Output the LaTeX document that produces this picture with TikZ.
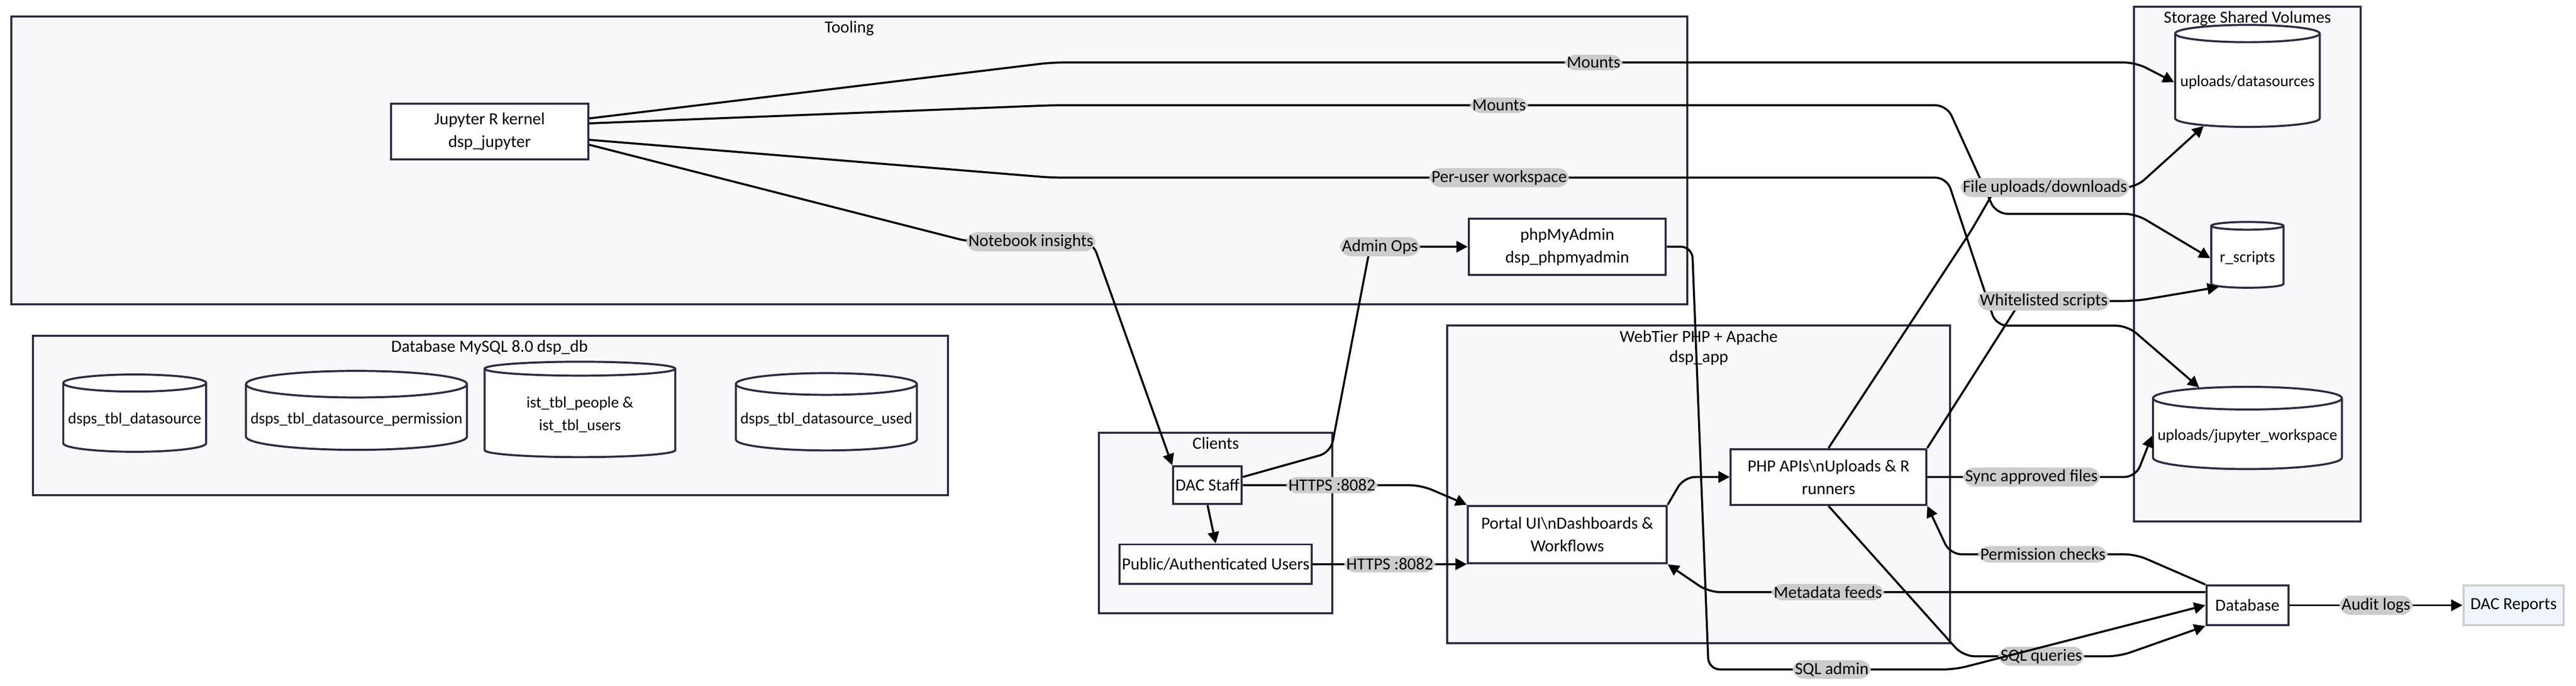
\documentclass[tikz,border=0pt]{standalone}
\usepackage{fontspec}
\setmainfont{Carlito}
\usetikzlibrary{shapes.geometric,arrows.meta,positioning}
\definecolor{edge}{HTML}{2B2B45}
\definecolor{clusterfill}{HTML}{F8F8FB}
\definecolor{labelbg}{HTML}{CCCCCC}
\definecolor{reportfill}{HTML}{F0F4FB}
\newcommand{\un}{0.0255cm}
\tikzset{
  cluster/.style={draw=edge, fill=clusterfill, line width=0.9pt},
  ctitle/.style={font=\fontsize{7.5}{9}\selectfont, text=black, align=center, anchor=north},
  box/.style={draw=edge, fill=white, line width=0.9pt, font=\fontsize{7.5}{10}\selectfont, align=center, inner sep=1pt},
  store/.style={cylinder, shape border rotate=90, aspect=0.12, draw=edge, fill=white, line width=0.9pt, font=\fontsize{7}{10}\selectfont, align=center, inner xsep=2pt, inner ysep=0pt},
  size/.style 2 args={minimum width=#1*\un, minimum height=#2*\un},
  link/.style={line width=0.9pt, draw=black, -{Triangle[length=5pt,width=5pt]}, rounded corners=5pt},
  tag/.style={fill=labelbg, font=\fontsize{7.5}{9}\selectfont, inner sep=1pt}
}
\begin{document}
\begin{tikzpicture}[x=\un, y=-\un]
\useasboundingbox (0,0) rectangle (1568,417);

% clusters
\draw[cluster] (7,10) rectangle (1027,185);
\node[ctitle] at (517,8) {Tooling};
\draw[cluster] (20,204) rectangle (577,301);
\node[ctitle] at (298,202) {Database MySQL 8.0 dsp\_db};
\draw[cluster] (669,263) rectangle (811,373);
\node[ctitle] at (740,261) {Clients};
\draw[cluster] (881,198) rectangle (1187,391);
\node[ctitle] at (1034,196) {WebTier PHP + Apache\\dsp\_app};
\draw[cluster] (1299,4) rectangle (1437,317);
\node[ctitle] at (1368,2) {Storage Shared Volumes};

% nodes
\node[box, size={120}{34}] (jupyter) at (298,80) {Jupyter R kernel\\dsp\_jupyter};
\node[box, size={120}{34}] (pma) at (954,150) {phpMyAdmin\\dsp\_phpmyadmin};
\node[store, size={87}{47}] (tds) at (82,255) {dsps\_tbl\_datasource};
\node[store, size={128}{48}] (tperm) at (217,255) {dsps\_tbl\_datasource\_permission};
\node[store, size={116}{58}] (tppl) at (353,252) {ist\_tbl\_people \&\\ist\_tbl\_users};
\node[store, size={104}{47}] (tused) at (503,255) {dsps\_tbl\_datasource\_used};
\node[box, size={40}{23}] (staff) at (735,295) {DAC Staff};
\node[box, size={115}{24}] (public) at (740,343) {Public/Authenticated Users};
\node[box, size={121}{35}] (portal) at (954,325) {Portal UI\textbackslash nDashboards \&\\Workflows};
\node[box, size={119}{34}] (api) at (1113,290) {PHP APIs\textbackslash nUploads \& R\\runners};
\node[store, size={88}{62}] (upds) at (1368,50) {uploads/datasources};
\node[store, size={44}{40}] (rscr) at (1368,157) {r\_scripts};
\node[store, size={112}{50}] (upjw) at (1368,265) {uploads/jupyter\_workspace};
\node[box, size={50}{24}] (db) at (1368,368) {Database};
\node[box, draw=gray!40, fill=reportfill, size={61}{24}] (rep) at (1530,368) {DAC Reports};

% connectors
\draw[link] (jupyter.east|-0,72) -- (640,38) -- node[tag]{Mounts} (1300,38) -- (upds.west);
\draw[link] (jupyter.east|-0,75) -- (640,64) -- node[tag]{Mounts} (1185,64) -- (1215,130) -- (1300,130) -- (rscr.west);
\draw[link] (jupyter.east|-0,85) -- (640,108) -- node[tag]{Per-user workspace} (1185,108) -- (1215,198) -- (1295,198) -- (upjw.north west);
\draw[link] (jupyter.east|-0,88) -- (590,147) -- node[tag, pos=0.5]{Notebook insights} (665,147) -- (staff.north west);
\draw[link] (staff.east|-0,290) -- (810,275) -- (834,150) -- node[tag, pos=0.1]{Admin Ops} (pma.west);
\draw[link] (staff.east) -- node[tag]{HTTPS :8082} (865,295) -- (portal.north west);
\draw[link] (staff.south) -- (public.north);
\draw[link] (public.east) -- node[tag]{HTTPS :8082} (portal.west|-0,343);
\draw[link] (portal.north east) -- (1025,290) -- (api.west);
\draw[link] (api.north) -- (1200,140) -- (1215,114) -- node[tag, pos=0.35]{File uploads/downloads} (1300,114) -- (upds.south west);
\draw[link] (api.north east) -- (1230,183) -- node[tag, pos=0.2]{Whitelisted scripts} (1300,183) -- (rscr.south west);
\draw[link] (api.east) -- node[tag]{Sync approved files} (1300,290) -- (upjw.west);
\draw[link] (db.north west) -- (1300,337) -- node[tag, pos=0.5]{Permission checks} (1187,337) -- (api.south east);
\draw[link] (db.west|-0,360) -- node[tag, pos=0.76]{Metadata feeds} (1040,360) -- (portal.south east);
\draw[link] (api.south) -- (1195,399) -- node[tag]{SQL queries} (1290,399) -- (db.south west);
\draw[link] (pma.east) -- (1030,150) -- (1040,407) -- node[tag]{SQL admin} (1190,407) -- (db.west);
\draw[link] (db.east) -- node[tag]{Audit logs} (rep.west);
\end{tikzpicture}
\end{document}
